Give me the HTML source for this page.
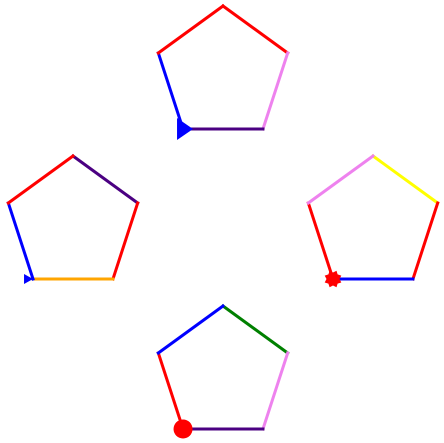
<!DOCTYPE html>
<html><head><meta charset="utf-8"><style>html,body{margin:0;padding:0;background:#fff}svg{display:block}</style></head>
<body>
<svg id="chart" width="444" height="443" viewBox="0 0 444 443" xmlns="http://www.w3.org/2000/svg"></svg>
<script>
const centers = [[223,74],[73,224],[373,224],[223,374]];
const radius = 68;
const edgeColors = [
  ["red","violet","indigo","blue","red"],
  ["indigo","red","orange","blue","red"],
  ["yellow","red","blue","red","violet"],
  ["green","violet","indigo","red","blue"]
];
const markers = ["triangle","smalltriangle","star","circle"];
const markerColors = ["blue","blue","red","red"];
const names = ["top-pentagon","left-pentagon","right-pentagon","bottom-pentagon"];
const svg = document.getElementById('chart');
const NS = "http://www.w3.org/2000/svg";
function vertex(c, k){
  const a = -Math.PI/2 + k*2*Math.PI/5;
  return [c[0] + radius*Math.cos(a), c[1] + radius*Math.sin(a)];
}
centers.forEach((c,i)=>{
  const g = document.createElementNS(NS,'g');
  
  
  for(let k=0;k<5;k++){
    const p1 = vertex(c,k), p2 = vertex(c,k+1);
    const l = document.createElementNS(NS,'line');
    
    
    l.setAttribute('x1',p1[0]);l.setAttribute('y1',p1[1]);
    l.setAttribute('x2',p2[0]);l.setAttribute('y2',p2[1]);
    l.setAttribute('stroke',edgeColors[i][k]);
    l.setAttribute('stroke-width','3');
    l.setAttribute('stroke-linecap','square');
    g.appendChild(l);
  }
  const v = vertex(c,3);
  let m;
  const col = markerColors[i];
  if(markers[i]==='triangle'){
    m = document.createElementNS(NS,'polygon');
    m.setAttribute('points', `${v[0]-6},${v[1]-11} ${v[0]+10},${v[1]} ${v[0]-6},${v[1]+11}`);
  } else if(markers[i]==='smalltriangle'){
    m = document.createElementNS(NS,'polygon');
    m.setAttribute('points', `${v[0]-9},${v[1]-5} ${v[0]},${v[1]} ${v[0]-9},${v[1]+5}`);
  } else if(markers[i]==='star'){
    m = document.createElementNS(NS,'polygon');
    let pts=[];
    for(let j=0;j<16;j++){
      const r = j%2===0?9:6.5;
      const a = j*Math.PI/8 + Math.PI/8;
      pts.push((v[0]+r*Math.cos(a)).toFixed(1)+','+(v[1]+r*Math.sin(a)).toFixed(1));
    }
    m.setAttribute('points', pts.join(' '));
  } else {
    m = document.createElementNS(NS,'circle');
    m.setAttribute('cx',v[0]);m.setAttribute('cy',v[1]);m.setAttribute('r','9.5');
  }
  
  
  m.setAttribute('fill', col);
  g.appendChild(m);
  svg.appendChild(g);
});
</script>
</body></html>
